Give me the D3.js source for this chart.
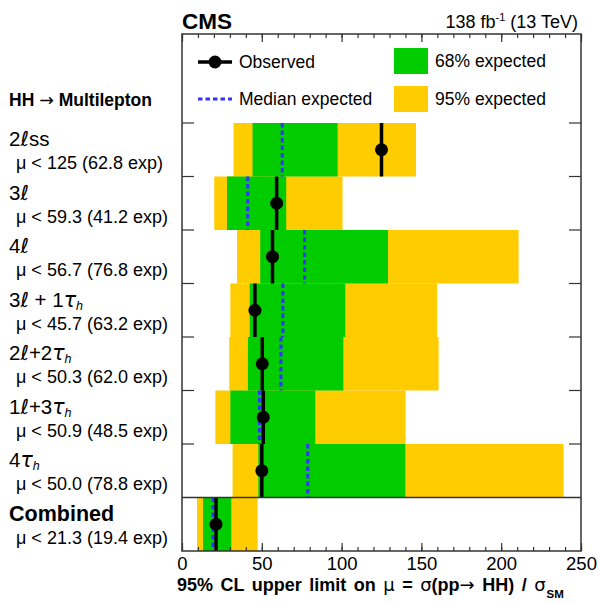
<!DOCTYPE html>
<html>
<head>
<meta charset="utf-8">
<script src="https://cdn.jsdelivr.net/npm/d3@7"></script>
<style>
body { margin: 0; background: #fff; }
text { font-family: "Liberation Sans", Arial, Helvetica, sans-serif; }
</style>
</head>
<body>
<svg id="chart" width="598" height="605"></svg>
<script>
// channels, top to bottom; "_h" marks a subscript h
var channels = ["2ℓss", "3ℓ", "4ℓ", "3ℓ + 1τ_h", "2ℓ+2τ_h", "1ℓ+3τ_h", "4τ_h", "Combined"];

var observed = [125, 59.3, 56.7, 45.7, 50.3, 50.9, 50.0, 21.3];
var expected = [62.8, 41.2, 76.8, 63.2, 62.0, 48.5, 78.8, 19.4];
var lo68     = [44.2, 28.2, 49.0, 42.4, 41.3, 30.3, 47.8, 13.2];
var hi68     = [97.5, 65.3, 129.1, 102.3, 101.1, 83.5, 139.9, 30.9];
var lo95     = [32.3, 20.2, 34.5, 30.3, 29.6, 20.9, 31.7, 9.4];
var hi95     = [146.6, 100.6, 210.9, 159.8, 160.8, 140.1, 239.1, 47.4];

var xTicks = [0, 50, 100, 150, 200, 250];

var svg = d3.select("#chart");

var pLeft = 182, pRight = 581, pTop = 34, pBottom = 551;

var x = d3.scaleLinear().domain([0, 250]).range([pLeft, pRight]);
var y = d3.scaleBand().domain(d3.range(channels.length)).range([123, pBottom]);
var bw = y.bandwidth();

var green = "#00cc00", yellow = "#ffcc00", blue = "#3333ff";
var symFont = "DejaVu Sans, sans-serif";

var rows = channels.map(function(c, i) {
  return {name: c, obs: observed[i], exp: expected[i],
          lo68: lo68[i], hi68: hi68[i], lo95: lo95[i], hi95: hi95[i], i: i};
});

// bands
svg.selectAll(".b95").data(rows).enter().append("rect")
  .attr("x", function(d) { return x(d.lo95); })
  .attr("y", function(d) { return y(d.i); })
  .attr("width", function(d) { return x(d.hi95) - x(d.lo95); })
  .attr("height", bw)
  .attr("fill", yellow);

svg.selectAll(".b68").data(rows).enter().append("rect")
  .attr("x", function(d) { return x(d.lo68); })
  .attr("y", function(d) { return y(d.i); })
  .attr("width", function(d) { return x(d.hi68) - x(d.lo68); })
  .attr("height", bw)
  .attr("fill", green);

// median expected
svg.selectAll(".med").data(rows).enter().append("line")
  .attr("x1", function(d) { return x(d.exp); })
  .attr("x2", function(d) { return x(d.exp); })
  .attr("y1", function(d) { return y(d.i); })
  .attr("y2", function(d) { return y(d.i) + bw; })
  .attr("stroke", blue)
  .attr("stroke-width", 3)
  .attr("stroke-dasharray", "4.5,3");

// observed
svg.selectAll(".obs").data(rows).enter().append("line")
  .attr("x1", function(d) { return x(d.obs); })
  .attr("x2", function(d) { return x(d.obs); })
  .attr("y1", function(d) { return y(d.i); })
  .attr("y2", function(d) { return y(d.i) + bw; })
  .attr("stroke", "#000")
  .attr("stroke-width", 3.5);

svg.selectAll(".dot").data(rows).enter().append("circle")
  .attr("cx", function(d) { return x(d.obs); })
  .attr("cy", function(d) { return y(d.i) + bw / 2; })
  .attr("r", 6.5)
  .attr("fill", "#000");

// frame
svg.append("rect")
  .attr("x", pLeft).attr("y", pTop)
  .attr("width", pRight - pLeft).attr("height", pBottom - pTop)
  .attr("fill", "none").attr("stroke", "#333").attr("stroke-width", 1.5);

// row ticks on both sides, full line above "Combined"
d3.range(channels.length).forEach(function(i) {
  var yy = y(i);
  if (i == channels.length - 1) {
    svg.append("line").attr("x1", pLeft).attr("x2", pRight)
      .attr("y1", yy).attr("y2", yy)
      .attr("stroke", "#333").attr("stroke-width", 1.5);
  } else {
    svg.append("line").attr("x1", pLeft).attr("x2", pLeft + 12)
      .attr("y1", yy).attr("y2", yy).attr("stroke", "#333").attr("stroke-width", 1.2);
    svg.append("line").attr("x1", pRight - 12).attr("x2", pRight)
      .attr("y1", yy).attr("y2", yy).attr("stroke", "#333").attr("stroke-width", 1.2);
  }
});

// x axes
var xAxis = d3.axisBottom(x).tickValues(xTicks).tickSizeInner(-8).tickSizeOuter(0).tickPadding(6);
var xMinor = d3.axisBottom(x).tickValues(d3.range(0, 251, 10)).tickSizeInner(-4).tickSizeOuter(0).tickFormat("");
var xTop = d3.axisTop(x).tickValues(xTicks).tickSizeInner(-8).tickSizeOuter(0).tickFormat("");
var xTopMinor = d3.axisTop(x).tickValues(d3.range(0, 251, 10)).tickSizeInner(-4).tickSizeOuter(0).tickFormat("");

[[xMinor, pBottom], [xAxis, pBottom], [xTopMinor, pTop], [xTop, pTop]].forEach(function(a) {
  var g = svg.append("g").attr("transform", "translate(0," + a[1] + ")").call(a[0]);
  g.select(".domain").remove();
  g.selectAll("line").attr("stroke", "#333").attr("stroke-width", 1.2);
  g.selectAll("text").attr("font-size", 18.5).attr("fill", "#000")
    .attr("font-family", "Liberation Sans, Arial, sans-serif");
});

// axis title
var title = svg.append("text").attr("x", 177).attr("y", 591)
  .attr("font-size", 18).attr("font-weight", "bold").attr("word-spacing", 2.5);
title.append("tspan").text("95% CL upper limit on ");
title.append("tspan").attr("font-weight", "normal").attr("font-family", symFont).text("μ");
title.append("tspan").text(" = ");
title.append("tspan").attr("font-weight", "normal").attr("font-family", symFont).text("σ");
title.append("tspan").text("(pp");
title.append("tspan").attr("font-weight", "normal").attr("font-family", symFont).text("→");
title.append("tspan").text(" HH)  /  ");
title.append("tspan").attr("font-weight", "normal").attr("font-family", symFont).text("σ");
title.append("tspan").attr("font-size", 11.5).attr("dy", 7).attr("dx", 1).text("SM");

// header
svg.append("text").attr("x", pLeft).attr("y", 29)
  .attr("font-size", 22.5).attr("font-weight", "bold").text("CMS");
var lumi = svg.append("text").attr("x", 578).attr("y", 28)
  .attr("font-size", 18).attr("text-anchor", "end");
lumi.append("tspan").text("138 fb");
lumi.append("tspan").attr("font-size", 11).attr("dy", -7).text("-1");
lumi.append("tspan").attr("dy", 7).text(" (13 TeV)");

var hh = svg.append("text").attr("x", 9).attr("y", 106)
  .attr("font-size", 17.5).attr("font-weight", "bold");
hh.append("tspan").text("HH ");
hh.append("tspan").attr("font-weight", "normal").attr("font-family", symFont).text("→");
hh.append("tspan").text(" Multilepton");

// legend
svg.append("line").attr("x1", 198).attr("x2", 232).attr("y1", 62).attr("y2", 62)
  .attr("stroke", "#000").attr("stroke-width", 3.5);
svg.append("circle").attr("cx", 215).attr("cy", 62).attr("r", 6.5).attr("fill", "#000");
svg.append("text").attr("x", 239).attr("y", 68).attr("font-size", 17.5).text("Observed");

svg.append("line").attr("x1", 198).attr("x2", 232).attr("y1", 99).attr("y2", 99)
  .attr("stroke", blue).attr("stroke-width", 3).attr("stroke-dasharray", "4.5,3");
svg.append("text").attr("x", 239).attr("y", 105).attr("font-size", 17.5).text("Median expected");

svg.append("rect").attr("x", 394).attr("y", 48).attr("width", 34).attr("height", 26).attr("fill", green);
svg.append("text").attr("x", 435).attr("y", 67).attr("font-size", 17.5).text("68% expected");
svg.append("rect").attr("x", 394).attr("y", 86).attr("width", 34).attr("height", 26).attr("fill", yellow);
svg.append("text").attr("x", 435).attr("y", 105).attr("font-size", 17.5).text("95% expected");

// row labels
rows.forEach(function(d) {
  var last = d.i == channels.length - 1;
  var t = svg.append("text").attr("x", 9).attr("y", y(d.i) + 23)
    .attr("font-size", last ? 21.5 : 20.5).attr("font-weight", last ? "bold" : "normal");
  var parts = d.name.split("_h");
  parts.forEach(function(p, k) {
    // ℓ and τ in a script-like face
    p.split(/(ℓ|τ)/).forEach(function(s) {
      if (!s) return;
      var ts = t.append("tspan").text(s);
      if (s == "ℓ" || s == "τ") ts.attr("font-family", symFont).attr("font-style", "italic");
    });
    if (k < parts.length - 1) {
      t.append("tspan").attr("font-size", 12.5).attr("font-style", "italic").attr("dy", 3).text("h");
      t.append("tspan").attr("dy", -3).text("");
    }
  });
  svg.append("text").attr("x", 16).attr("y", y(d.i) + 46)
    .attr("font-size", 18)
    .text("μ < " + d.obs.toPrecision(3) + " (" + d.exp.toPrecision(3) + " exp)");
});
</script>
</body>
</html>
